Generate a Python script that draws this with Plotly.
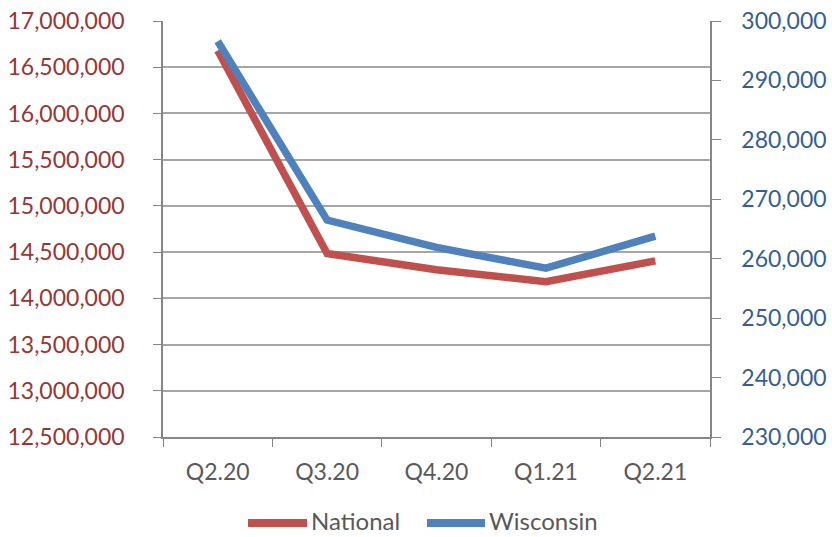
import plotly.graph_objects as go

# Quarterly values
quarters = ["Q2.20", "Q3.20", "Q4.20", "Q1.21", "Q2.21"]
national = [16680000, 14485000, 14310000, 14180000, 14405000]
wisconsin = [296600, 266500, 261900, 258400, 263800]
series_names = ["National", "Wisconsin"]

left_ticks = list(range(12500000, 17000001, 500000))
right_ticks = list(range(230000, 300001, 10000))

RED = "#C0504D"
BLUE = "#4F81BD"
RED_TXT = "#953735"
BLUE_TXT = "#365F91"
GRID = "#A6A6A6"
AXIS = "#868686"
TEXT = "#595959"
FONT = "Lato"

W, H = 832, 537
ML, MR, MT, MB = 163, 122, 21, 100
PW, PH = W - ML - MR, H - MT - MB


def px_x(p):
    """Pixel column -> paper x."""
    return (p - ML) / PW


def px_y(p):
    """Pixel row -> paper y."""
    return (H - MB - p) / PH


fig = go.Figure()
fig.add_trace(go.Scatter(
    x=quarters, y=national, name=series_names[0], mode="lines",
    line=dict(color=RED, width=7.5), yaxis="y", showlegend=False,
))
fig.add_trace(go.Scatter(
    x=quarters, y=wisconsin, name=series_names[1], mode="lines",
    line=dict(color=BLUE, width=7.5), yaxis="y2", showlegend=False,
))

# Legend row below the axis: long line swatches followed by the series name
swatch_y = 523
text_bottom = 536
swatches = [(248, 307, 310, RED), (427, 485, 488, BLUE)]
shapes, annotations = [], []
for name, (s0, s1, tx, col) in zip(series_names, swatches):
    shapes.append(dict(
        type="line", xref="paper", yref="paper",
        x0=px_x(s0), x1=px_x(s1), y0=px_y(swatch_y), y1=px_y(swatch_y),
        line=dict(color=col, width=8),
    ))
    annotations.append(dict(
        xref="paper", yref="paper", x=px_x(tx), y=px_y(text_bottom),
        xanchor="left", yanchor="bottom", showarrow=False, text=name,
        font=dict(family=FONT, size=24, color=TEXT), borderpad=0,
    ))

fig.update_layout(
    width=W, height=H,
    margin=dict(l=ML, r=MR, t=MT, b=MB, autoexpand=False),
    paper_bgcolor="white", plot_bgcolor="white",
    font=dict(family=FONT, size=22, color=TEXT),
    showlegend=False,
    shapes=shapes,
    annotations=annotations,
    xaxis=dict(
        type="category", range=[-0.5, 4.5], automargin=False,
        tickson="boundaries", ticks="outside", ticklen=8, tickcolor=AXIS,
        showline=True, linecolor=AXIS, linewidth=1.5,
        showgrid=False, ticklabelstandoff=14,
        tickfont=dict(size=23, color=TEXT),
    ),
    yaxis=dict(
        range=[12500000, 17000000], tickvals=left_ticks, automargin=False,
        tickformat=",d", ticks="outside", ticklen=8, tickcolor=AXIS,
        showline=True, linecolor=AXIS, linewidth=1.5,
        showgrid=True, gridcolor=GRID, gridwidth=1.5,
        zeroline=False, ticklabelstandoff=24,
        tickfont=dict(size=23, color=RED_TXT),
    ),
    yaxis2=dict(
        range=[230000, 300000], tickvals=right_ticks, automargin=False,
        tickformat=",d", overlaying="y", side="right",
        ticks="outside", ticklen=9, tickcolor=AXIS,
        showline=True, linecolor=AXIS, linewidth=1.5,
        showgrid=False, zeroline=False, ticklabelstandoff=16,
        tickfont=dict(size=23, color=BLUE_TXT),
    ),
)

fig.write_html("out.html")
